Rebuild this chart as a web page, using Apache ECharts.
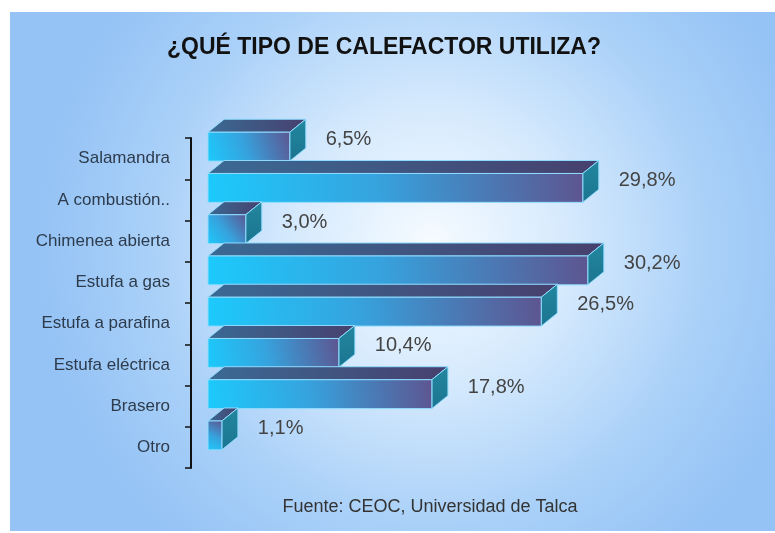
<!DOCTYPE html>
<html>
<head>
<meta charset="utf-8">
<script src="https://cdn.jsdelivr.net/npm/echarts@6/dist/echarts.min.js"></script>
<style>
html,body{margin:0;padding:0;background:#fff;}
#chart{width:775px;height:533px;}
</style>
</head>
<body>
<div id="chart"></div>
<script>
const titleText = '¿QUÉ TIPO DE CALEFACTOR UTILIZA?';
const footerText = 'Fuente: CEOC, Universidad de Talca';
const categories = ['Salamandra', 'A combustión..', 'Chimenea abierta', 'Estufa a gas', 'Estufa a parafina', 'Estufa eléctrica', 'Brasero', 'Otro'];
const values = [6.5, 29.8, 3.0, 30.2, 26.5, 10.4, 17.8, 1.1];

const FONT = '"Liberation Sans", Arial, sans-serif';
const chart = echarts.init(document.getElementById('chart'), null, {renderer: 'canvas'});

function fmt(v) { return v.toFixed(1).replace('.', ',') + '%'; }

const frontGrad = new echarts.graphic.LinearGradient(0, 1, 1, 0, [
  {offset: 0, color: '#1ccafc'},
  {offset: 0.45, color: '#36a3de'},
  {offset: 1, color: '#5d5590'}
]);
const topGrad = new echarts.graphic.LinearGradient(0, 0, 1, 0, [
  {offset: 0, color: '#3a6a94'},
  {offset: 1, color: '#47406e'}
]);
const sideGrad = new echarts.graphic.LinearGradient(0, 0, 0, 1, [
  {offset: 0, color: '#23869f'},
  {offset: 1, color: '#1b7590'}
]);

function renderItem(params, api) {
  const v = api.value(0);
  const idx = api.value(1);
  const s = api.coord([0, idx]);
  const e = api.coord([v, idx]);
  const band = api.size([0, 1])[1];
  const h = band * 0.7;
  const cy = s[1] - band * 0.29;
  const y0 = cy - h / 2, y1 = cy + h / 2;
  const x0 = s[0], x1 = e[0];
  const dx = band * 0.39, dy = band * 0.315;
  const edge = {stroke: '#8fdcff', lineWidth: 1};
  return {
    type: 'group',
    children: [
      {type: 'polygon', shape: {points: [[x0, y0], [x1, y0], [x1 + dx, y0 - dy], [x0 + dx, y0 - dy]]},
        style: Object.assign({fill: topGrad}, edge)},
      {type: 'polygon', shape: {points: [[x1, y0], [x1 + dx, y0 - dy], [x1 + dx, y1 - dy], [x1, y1]]},
        style: Object.assign({fill: sideGrad}, edge)},
      {type: 'rect', shape: {x: x0, y: y0, width: x1 - x0, height: h},
        style: Object.assign({fill: frontGrad}, edge)},
      {type: 'text', x: x1 + 36, y: cy - 7,
        style: {text: fmt(v), fill: '#444', font: '20px ' + FONT, align: 'left', verticalAlign: 'middle'}}
    ]
  };
}

chart.setOption({
  backgroundColor: '#ffffff',
  animation: false,
  graphic: [
    {type: 'rect', z: -10, shape: {x: 10, y: 12, width: 765, height: 519},
      style: {fill: new echarts.graphic.RadialGradient(0.55, 0.45, 0.75, [
        {offset: 0, color: '#f6fbff'},
        {offset: 0.35, color: '#d6eafd'},
        {offset: 0.72, color: '#a9d0f8'},
        {offset: 1, color: '#95c3f5'}
      ])}},
    {type: 'text', x: 384, y: 48, z: 10,
      style: {text: titleText, fill: '#111', font: 'bold 23px ' + FONT, align: 'center', verticalAlign: 'middle'}},
    {type: 'text', x: 430, y: 507, z: 10,
      style: {text: footerText, fill: '#333', font: '18px ' + FONT, align: 'center', verticalAlign: 'middle'}}
  ],
  grid: {left: 208, right: 64, top: 138, bottom: 65, containLabel: false},
  xAxis: {type: 'value', min: 0, max: 40, show: false},
  yAxis: {
    type: 'category', data: categories, inverse: true, offset: 17,
    axisLine: {show: true, onZero: false, lineStyle: {color: '#111', width: 2}},
    axisTick: {show: true, length: 6, lineStyle: {color: '#111', width: 1.5}},
    axisLabel: {color: '#2d3b4c', fontSize: 17, fontFamily: FONT, margin: 21},
    splitLine: {show: false}
  },
  series: [{
    type: 'custom',
    renderItem: renderItem,
    encode: {x: 0, y: 1},
    data: values.map((v, i) => [v, i]),
    z: 2
  }]
});
</script>
</body>
</html>
